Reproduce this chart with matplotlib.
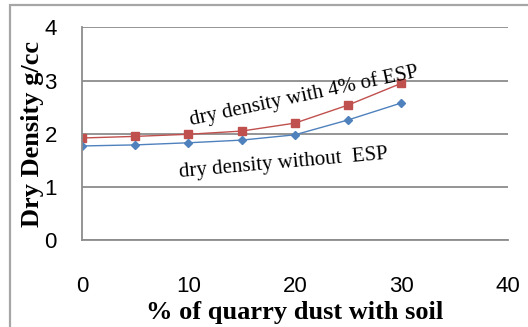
from matplotlib import pyplot as plt
from matplotlib.patches import Rectangle

# % of quarry dust with soil
quarry_dust = [0, 5, 10, 15, 20, 25, 30]
# dry density (g/cc)
density_esp = [1.92, 1.95, 1.99, 2.05, 2.20, 2.54, 2.95]
density_plain = [1.77, 1.79, 1.83, 1.88, 1.98, 2.26, 2.58]

fig = plt.figure(figsize=(5.28, 3.27), dpi=100)
ax = fig.add_axes([0.155, 0.266, 0.807, 0.650])

# outer chart frame (left and top edges visible)
fig.patches.append(Rectangle((10 / 528, -0.05), 1.0, 0.05 + 322 / 327,
                             transform=fig.transFigure, fill=False,
                             edgecolor="#a6a6a6", linewidth=1.6))

ax.plot(quarry_dust, density_esp, "-s", color="#c0504d", markersize=6,
        linewidth=1, label="dry density with 4% of ESP")
ax.plot(quarry_dust, density_plain, "-D", color="#4f81bd", markersize=4,
        linewidth=1, label="dry density without ESP")

ax.set_xlim(0, 40)
ax.set_ylim(0, 4)
ax.set_xticks([0, 10, 20, 30, 40])
ax.set_yticks([0, 1, 2, 3, 4])
ax.yaxis.grid(True, color="#8c8c8c", linewidth=1.3)
ax.set_axisbelow(True)
for side in ["top", "right"]:
    ax.spines[side].set_visible(False)
for side in ["left", "bottom"]:
    ax.spines[side].set_color("#8c8c8c")
    ax.spines[side].set_linewidth(1.3)
ax.tick_params(length=0, labelsize=16)
ax.tick_params(axis="x", pad=26)
ax.tick_params(axis="y", pad=18)
for lbl in ax.get_xticklabels() + ax.get_yticklabels():
    lbl.set_fontfamily("Liberation Sans")

ax.set_xlabel("% of quarry dust with soil", fontsize=19, fontweight="bold",
              fontfamily="Liberation Serif", labelpad=3)
ax.set_ylabel("Dry Density g/cc", fontsize=19, fontweight="bold",
              fontfamily="Liberation Serif", labelpad=0)

ax.text(10.25, 2.16, "dry density with 4% of ESP", fontsize=15,
        fontfamily="Liberation Serif", rotation=12, rotation_mode="anchor",
        ha="left", va="baseline")
ax.text(9.2, 1.18, "dry density without  ESP", fontsize=15,
        fontfamily="Liberation Serif", rotation=5, rotation_mode="anchor",
        ha="left", va="baseline")

plt.savefig("out.png", dpi=100)
